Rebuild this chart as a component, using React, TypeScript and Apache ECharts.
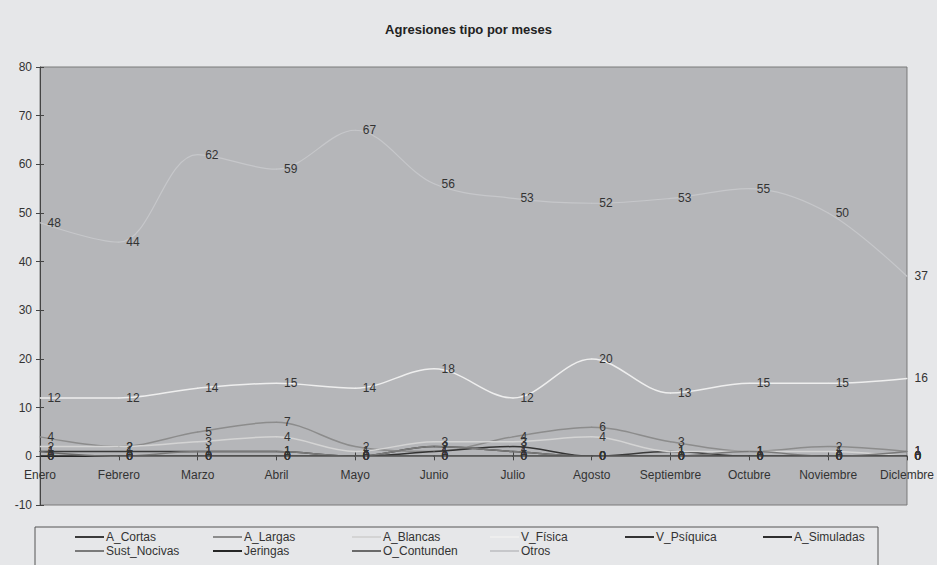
import React, { useEffect, useRef } from "react";
import * as echarts from "echarts";

const months = ["Enero", "Febrero", "Marzo", "Abril", "Mayo", "Junio", "Julio", "Agosto", "Septiembre", "Octubre", "Noviembre", "Diclembre"];

const aCortas = [1, 1, 1, 1, 0, 2, 1, 0, 1, 0, 0, 0];
const aLargas = [4, 2, 5, 7, 2, 1, 4, 6, 3, 1, 2, 1];
const aBlancas = [2, 2, 3, 4, 1, 3, 3, 4, 1, 1, 1, 0];
const vFisica = [12, 12, 14, 15, 14, 18, 12, 20, 13, 15, 15, 16];
const vPsiquica = [0, 0, 0, 0, 0, 1, 2, 0, 0, 0, 0, 0];
const aSimuladas = [0, 0, 0, 0, 0, 0, 0, 0, 0, 0, 0, 0];
const sustNocivas = [0, 0, 1, 1, 0, 2, 1, 0, 0, 1, 0, 1];
const jeringas = [0, 0, 0, 0, 0, 0, 0, 0, 0, 0, 0, 0];
const oContunden = [1, 0, 0, 0, 0, 0, 0, 0, 0, 0, 0, 0];
const otros = [48, 44, 62, 59, 67, 56, 53, 52, 53, 55, 50, 37];

const seriesDefs = [
  { name: "A_Cortas", data: aCortas, color: "#3a3a3a" },
  { name: "A_Largas", data: aLargas, color: "#8c8c8c" },
  { name: "A_Blancas", data: aBlancas, color: "#d4d4d4" },
  { name: "V_Física", data: vFisica, color: "#eeeeee" },
  { name: "V_Psíquica", data: vPsiquica, color: "#333333" },
  { name: "A_Simuladas", data: aSimuladas, color: "#2e2e2e" },
  { name: "Sust_Nocivas", data: sustNocivas, color: "#7a7a7a" },
  { name: "Jeringas", data: jeringas, color: "#262626" },
  { name: "O_Contunden", data: oContunden, color: "#6a6a6a" },
  { name: "Otros", data: otros, color: "#c6c7ca" },
];

const legendPos = [
  [75, 538], [213, 538], [352, 538], [490, 538], [625, 538], [763, 538],
  [75, 552], [213, 552], [352, 552], [490, 552],
];

export default function App() {
  const ref = useRef<HTMLDivElement>(null);
  useEffect(() => {
    document.body.style.margin = "0";
    const chart = echarts.init(ref.current!, null, { renderer: "svg" });
    const font = "Liberation Sans, Arial, sans-serif";
    const yBase = { type: "value", min: -10, max: 80, interval: 10, splitLine: { show: false } };
    chart.setOption({
      animation: false,
      backgroundColor: "#e6e7e9",
      textStyle: { fontFamily: font },
      title: {
        text: "Agresiones tipo por meses",
        left: "center",
        top: 18,
        textStyle: { fontSize: 13, fontWeight: "bold", color: "#222", fontFamily: font },
      },
      legend: seriesDefs.map((s, i) => ({
        data: [s.name],
        left: legendPos[i][0],
        top: legendPos[i][1] - 7,
        icon: "rect",
        itemWidth: 29,
        itemHeight: 2,
        itemGap: 2,
        padding: 0,
        itemStyle: { opacity: 1 },
        textStyle: { fontSize: 12, color: "#333", fontFamily: font, padding: [0, 0, 0, -3] },
      })),
      grid: { left: 40, right: 25, top: 67, bottom: 60, show: true, backgroundColor: "#b5b6b9", borderColor: "#7a7a7a", borderWidth: 1 },
      xAxis: [
        {
          type: "category",
          data: months,
          boundaryGap: false,
          axisLine: { onZero: true, lineStyle: { color: "#444", width: 1 } },
          axisTick: { show: true, length: 4, lineStyle: { color: "#444" } },
          axisLabel: { color: "#333", fontSize: 12, margin: -36, fontFamily: font, interval: 0 },
        },
        {
          type: "category",
          data: months,
          position: "bottom",
          boundaryGap: false,
          axisLine: { show: false, onZero: true },
          axisTick: { show: true, inside: true, length: 4, lineStyle: { color: "#444" } },
          axisLabel: { show: false },
        },
      ],
      yAxis: [
        {
          ...yBase,
          axisLine: { show: true, lineStyle: { color: "#444" } },
          axisTick: { show: true, length: 4, lineStyle: { color: "#444" } },
          axisLabel: { color: "#333", fontSize: 12, margin: 8, fontFamily: font },
        },
        {
          ...yBase,
          position: "left",
          offset: 0,
          axisLine: { show: false },
          axisTick: { show: true, inside: true, length: 4, lineStyle: { color: "#444" } },
          axisLabel: { show: false },
        },
      ],
      graphic: [
        {
          type: "rect",
          shape: { x: 35, y: 527, width: 843, height: 50 },
          style: { fill: "none", stroke: "#555", lineWidth: 1 },
          z: 10,
        },
      ],
      series: seriesDefs.map((s) => ({
        name: s.name,
        type: "line",
        data: s.data,
        smooth: 0.35,
        symbol: "circle",
        symbolSize: 1,
        showSymbol: true,
        lineStyle: { color: s.color, width: s.name === "Otros" ? 1.2 : 1.5 },
        itemStyle: { color: s.color },
        label: { show: true, position: "right", distance: 7, color: "#333", fontSize: 12, fontFamily: font },
      })),
    });
    return () => chart.dispose();
  }, []);
  return <div ref={ref} style={{ width: 937, height: 565 }} />;
}
